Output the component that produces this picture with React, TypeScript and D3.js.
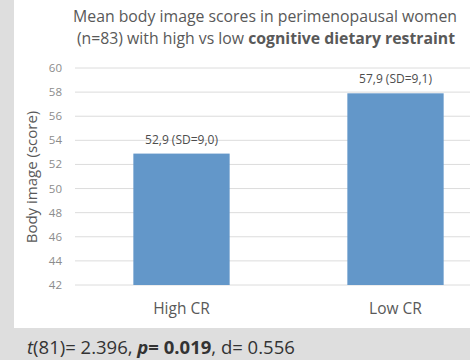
import React from "react";
import * as d3 from "d3";

const categories = ["High CR", "Low CR"];
const means = [52.9, 57.9];
const valueLabels = ["52,9 (SD=9,0)", "57,9 (SD=9,1)"];
const yTicks = [42, 44, 46, 48, 50, 52, 54, 56, 58, 60];

const W = 470;
const H = 360;
const FONT = "'Open Sans', 'DejaVu Sans', sans-serif";

export default function App() {
  const x = d3.scaleBand<string>().domain(categories).range([74.5, 502.5]).paddingInner(0.55).paddingOuter(0.275);
  const y = d3.scaleLinear().domain([42, 60]).range([285, 68]);
  const gridX0 = 75;
  const gridX1 = 470;

  return (
    <div style={{ position: "fixed", left: 0, top: 0 }}>
      <svg width={W} height={H} style={{ display: "block" }}>
        <rect x={0} y={0} width={W} height={H} fill="#dedede" />
        <rect x={14} y={0} width={W - 14} height={328} fill="#ffffff" />
        <text x={265} y={22} textAnchor="middle" fontFamily={FONT} fontSize={15.8} fill="#595959">
          Mean body image scores in perimenopausal women
        </text>
        <text x={266} y={44} textAnchor="middle" fontFamily={FONT} fontSize={15.8} fill="#595959">
          (n=83) with high vs low <tspan fontWeight="bold">cognitive dietary restraint</tspan>
        </text>
        {yTicks.map((t) => (
          <g key={t}>
            <line x1={gridX0} x2={gridX1} y1={y(t)} y2={y(t)} stroke="#dcdcdc" strokeWidth={1} />
            <text x={62} y={y(t)} dy="0.35em" textAnchor="end" fontFamily={FONT} fontSize={11.5} fill="#8c8c8c">
              {t}
            </text>
          </g>
        ))}
        {categories.map((c, i) => (
          <g key={c}>
            <rect x={x(c)} y={y(means[i])} width={x.bandwidth()} height={y(42) - y(means[i])} fill="#6397c9" />
            <text x={(x(c) as number) + x.bandwidth() / 2} y={y(means[i]) - 10} textAnchor="middle" fontFamily={FONT} fontSize={12} fill="#4d4d4d">
              {valueLabels[i]}
            </text>
            <text x={(x(c) as number) + x.bandwidth() / 2} y={314} textAnchor="middle" fontFamily={FONT} fontSize={15.5} fill="#595959">
              {c}
            </text>
          </g>
        ))}
        <text transform={`translate(37,177) rotate(-90)`} textAnchor="middle" fontFamily={FONT} fontSize={15} fill="#595959">
          Body image (score)
        </text>
        <text x={27} y={354} fontFamily={FONT} fontSize={18.5} fill="#333333">
          <tspan fontStyle="italic">t</tspan>(81)= 2.396, <tspan fontWeight="bold"><tspan fontStyle="italic">p</tspan>= 0.019</tspan>, d= 0.556
        </text>
      </svg>
    </div>
  );
}
